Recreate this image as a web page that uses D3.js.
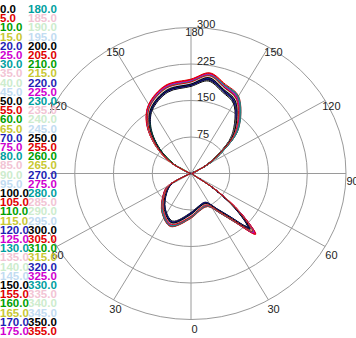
<!DOCTYPE html>
<html><head><meta charset="utf-8">
<script src="https://cdn.jsdelivr.net/npm/d3@7"></script>
<style>body{margin:0;background:#fff}svg{display:block}</style>
</head><body>
<script>
// ---- data ----
const angles = [0,12,25,35,40,45,50,55,62,90,115,120,127,135,150,160,170,180,195,210,220,230,240,248,270,292,300,310,325,340];
const seriesNames = ["0.0","5.0","10.0","15.0","20.0","25.0","30.0","35.0","40.0","45.0","50.0","55.0","60.0","65.0","70.0","75.0","80.0","85.0","90.0","95.0","100.0","105.0","110.0","115.0","120.0","125.0","130.0","135.0","140.0","145.0","150.0","155.0","160.0","165.0","170.0","175.0","180.0","185.0","190.0","195.0","200.0","205.0","210.0","215.0","220.0","225.0","230.0","235.0","240.0","245.0","250.0","255.0","260.0","265.0","270.0","275.0","280.0","285.0","290.0","295.0","300.0","305.0","310.0","315.0","320.0","325.0","330.0","335.0","340.0","345.0","350.0","355.0"];
const radii = [
[84,72,68,92,118,160,115,52,3,1,9,34,70,117,170,183,198,184,177,154,124,82,40,5,1,5,46,64,90,108],
[88,75,71,97,124,172,122,58,5,2,12,39,75,124,178,189,205,189,183,160,130,88,44,7,3,7,50,68,94,112],
[85,73,69,94,119,163,117,54,4,2,10,35,71,119,172,185,200,185,179,156,126,84,41,6,2,6,47,65,91,109],
[87,74,70,96,121,166,119,56,4,1,11,37,73,121,175,187,203,187,181,158,128,86,43,6,2,6,49,67,93,111],
[83,71,67,91,116,158,113,51,3,2,9,33,68,115,168,181,196,182,176,153,123,81,39,5,1,5,45,63,89,107],
[89,76,72,98,125,170,121,57,5,3,12,40,76,126,179,190,206,190,184,161,131,89,45,7,2,7,51,69,95,113],
[90,77,73,99,126,168,120,58,5,2,13,41,78,128,181,191,204,188,182,159,129,87,44,6,2,6,50,68,96,114],
[86,73,70,95,120,164,118,55,4,2,10,36,72,120,174,186,202,186,180,157,127,85,42,6,2,6,48,66,92,110],
[85,74,71,94,121,166,119,54,4,2,10,37,73,121,175,185,201,187,179,156,126,84,41,6,2,6,47,65,91,109],
[87,75,69,96,119,163,117,56,4,2,11,35,71,119,173,187,203,185,181,158,128,86,43,6,2,6,49,67,93,111],
[82,71,66,90,115,156,112,50,3,1,8,32,67,114,167,180,195,181,175,152,122,80,38,5,1,4,44,62,88,106],
[91,78,74,100,128,174,124,60,6,3,14,42,79,129,182,193,208,192,186,163,133,90,46,8,3,8,52,70,97,115],
[86,74,70,95,120,165,118,55,4,2,12,40,76,124,177,188,203,185,178,154,123,80,38,5,2,5,47,65,91,109],
[85,73,69,94,119,162,116,53,3,1,8,33,69,117,171,184,201,187,182,160,131,90,46,7,2,6,49,67,93,111],
[87,75,71,96,122,168,120,57,5,2,11,38,74,122,176,188,204,188,182,159,129,87,44,6,2,6,49,67,93,111],
[84,72,68,93,118,161,115,53,4,2,10,35,71,118,172,184,199,184,178,155,125,83,41,5,1,5,46,64,90,108],
[88,76,72,97,123,169,121,57,5,2,9,34,70,118,173,186,202,187,181,158,128,86,43,6,2,6,48,66,92,110],
[86,73,69,95,120,165,118,55,4,2,11,37,73,121,175,187,202,186,180,157,127,85,42,6,2,6,48,66,92,110],
[85,74,70,94,120,164,117,55,4,2,10,36,72,120,174,186,201,186,180,157,126,85,42,6,2,6,48,65,92,110],
[87,74,71,96,121,166,119,56,4,2,10,36,73,120,174,187,202,186,181,157,127,85,43,6,2,6,48,66,93,110],
[80,69,65,89,113,154,110,49,3,1,8,31,66,112,165,178,193,179,173,150,120,79,37,4,1,4,43,61,87,104],
[92,79,75,101,129,177,126,61,6,3,13,42,80,130,184,195,210,194,188,164,134,91,47,8,3,8,53,71,98,116],
[86,74,70,95,121,165,118,55,4,2,13,41,78,127,180,190,205,187,179,154,122,79,37,5,2,5,46,64,90,108],
[86,74,70,95,120,165,118,55,4,2,8,32,67,114,169,182,199,185,181,160,132,91,47,8,2,6,50,68,94,112],
[88,75,72,97,122,167,119,56,4,2,11,37,74,122,177,189,205,189,183,160,130,88,44,6,2,6,49,67,93,111],
[84,72,68,93,117,161,115,53,4,2,10,35,70,117,171,183,199,183,177,154,124,82,40,5,1,5,46,64,90,108],
[89,76,72,98,124,171,122,58,5,2,12,39,76,125,179,190,206,190,184,161,131,89,45,7,2,7,51,69,95,113],
[85,73,69,94,119,163,117,54,4,2,10,36,72,120,174,186,202,186,180,157,127,85,42,6,2,6,48,66,92,110],
[86,74,70,95,120,165,118,55,4,2,10,36,72,121,174,185,202,186,180,158,127,85,42,6,2,6,48,66,91,110],
[87,74,70,96,121,166,119,56,4,2,10,36,71,120,175,186,203,186,179,157,128,85,42,6,2,6,49,66,92,111],
[83,71,67,92,117,159,114,52,3,1,9,34,69,116,169,182,197,182,176,153,123,81,39,5,1,5,45,63,89,107],
[90,77,73,99,126,173,123,59,6,3,13,40,77,127,181,192,207,191,185,162,132,89,45,7,3,7,52,70,96,114],
[85,73,69,94,119,164,117,54,4,2,11,38,75,123,176,187,201,184,178,155,125,83,40,5,2,5,47,65,91,109],
[87,75,71,96,121,167,119,56,4,2,9,34,70,118,172,185,202,187,182,159,129,87,44,7,2,6,49,67,93,111],
[82,70,66,91,116,160,114,52,3,1,9,33,68,115,168,181,197,183,177,154,124,82,40,5,1,5,45,63,89,107],
[89,77,73,98,125,172,122,58,5,3,12,40,77,126,180,191,206,190,184,161,131,89,45,7,3,7,51,69,95,113],
[91,78,74,100,127,169,121,59,6,3,14,43,80,130,183,193,205,189,183,160,130,88,45,7,2,6,51,69,97,115],
[86,74,70,95,120,165,118,55,4,2,10,36,72,120,174,186,202,186,180,157,127,85,42,6,2,6,48,66,92,110],
[85,73,69,95,120,164,118,55,4,2,10,36,72,120,174,186,201,186,180,157,127,85,42,6,2,6,48,66,92,110],
[87,75,71,95,121,166,119,55,4,2,10,36,72,120,174,186,203,186,180,157,127,85,42,6,2,6,48,66,92,110],
[84,72,68,93,118,162,116,53,4,2,10,35,71,119,172,184,200,185,179,156,126,84,41,5,1,5,47,65,91,109],
[88,76,72,97,123,170,121,57,5,2,11,37,73,121,176,188,204,188,182,159,129,87,43,6,2,6,49,67,93,111],
[86,74,70,95,120,165,118,55,4,2,12,39,75,123,177,188,203,186,179,155,124,82,39,5,2,5,47,65,91,109],
[86,74,70,95,120,165,118,55,4,2,9,34,70,118,172,185,201,186,181,159,129,88,44,7,2,6,49,67,93,111],
[81,70,66,90,114,157,112,50,3,1,8,32,68,115,168,181,196,181,175,152,122,80,38,5,1,4,44,62,88,106],
[90,77,73,99,126,174,124,59,5,3,12,40,77,126,181,192,208,192,186,163,133,90,46,7,3,7,52,70,96,114],
[89,76,73,98,125,168,121,58,5,2,13,41,78,128,182,192,205,189,183,160,130,88,44,6,2,6,50,68,96,114],
[85,74,70,94,120,165,118,55,4,2,10,37,72,121,174,186,202,186,180,157,127,85,42,6,2,6,48,66,93,110],
[86,73,70,95,119,164,118,55,4,2,10,36,73,120,175,186,201,186,181,157,127,85,41,6,2,6,48,67,92,110],
[87,74,71,95,121,165,119,55,4,2,11,36,72,120,174,187,202,185,180,156,127,85,42,6,2,6,49,66,92,111],
[83,72,67,92,117,160,114,52,3,1,9,34,70,117,170,183,198,183,177,154,124,83,40,5,1,5,46,64,89,107],
[89,76,72,98,124,171,122,58,5,3,12,39,76,125,179,190,206,190,184,161,131,88,45,7,3,7,51,69,95,113],
[85,73,69,94,120,164,117,54,4,2,12,40,77,125,178,189,204,186,178,154,123,81,38,5,2,5,47,65,91,109],
[87,75,71,96,121,166,119,56,4,2,8,33,69,116,170,183,200,186,182,160,131,89,45,7,2,6,49,67,93,111],
[84,72,68,93,118,162,116,53,4,2,10,35,71,118,171,184,200,185,179,156,126,84,41,5,1,5,46,64,90,108],
[90,77,73,99,126,175,125,60,5,3,12,39,75,124,178,190,207,191,185,162,132,89,45,7,3,7,51,69,95,113],
[90,78,74,100,127,170,122,59,6,2,14,42,79,129,182,192,205,189,183,160,130,88,45,7,2,6,51,69,97,115],
[86,74,70,95,120,164,118,55,4,2,10,36,72,120,174,186,201,186,180,157,127,85,42,6,2,6,48,66,92,110],
[85,74,70,95,120,165,117,55,4,2,10,36,72,120,174,185,202,186,180,157,127,85,42,6,2,6,48,66,92,110],
[86,74,71,95,121,165,118,56,4,2,10,36,72,120,173,186,202,187,180,157,127,85,42,6,2,6,48,66,92,110],
[82,70,67,91,116,159,114,51,3,1,9,33,69,116,169,182,197,182,176,153,123,81,39,5,1,5,45,63,89,107],
[91,78,74,100,128,176,125,61,6,3,13,41,78,128,182,193,209,193,187,163,133,90,46,8,3,8,52,70,97,115],
[86,74,70,95,120,165,118,55,4,2,12,39,76,124,177,188,203,186,179,155,124,82,39,5,2,5,47,65,91,109],
[86,74,70,95,120,165,118,55,4,2,9,33,69,116,171,184,201,186,181,159,130,89,45,7,2,6,49,67,93,111],
[83,71,67,92,117,160,115,52,3,1,9,34,70,117,170,183,198,183,177,154,124,82,40,5,1,5,45,63,89,107],
[88,76,72,97,124,171,122,58,5,2,12,39,75,124,178,190,205,189,183,160,130,88,44,7,2,7,50,68,94,112],
[90,77,73,99,126,169,121,58,5,2,13,42,79,128,182,192,205,189,183,160,130,88,44,7,2,6,50,68,96,114],
[86,73,70,95,120,166,118,55,4,2,10,36,72,121,174,186,202,186,180,157,127,86,42,6,2,6,48,66,92,110],
[85,74,69,95,120,165,118,54,4,2,10,36,71,120,174,186,202,186,179,157,127,85,42,6,2,6,48,65,92,110],
[86,75,70,96,120,164,118,55,4,2,10,36,72,120,175,186,203,186,180,157,126,85,42,6,2,6,48,66,91,110],
[84,72,68,93,118,162,116,53,4,2,10,35,71,118,172,184,200,184,178,155,125,83,41,5,1,5,46,64,90,108],
[88,75,71,97,123,168,120,57,5,2,11,37,73,122,176,188,204,188,182,159,129,87,43,6,2,6,49,67,93,111]
];
const palette = ["#000000","#e00000","#00a000","#c8c832","#1e1eb4","#d000d0","#00a0a0","#f2c4d4","#cdeccd","#c2dcf2"];
const radialTicks = [75,150,225,300];
const spokeAngles = [0,30,60,90,120,150];
const angleTicks = [0,30,60,90,120,150,180,210,240,270,300,330];
const angleTickLabels = ["0","30","60","90","120","150","180","150","120","90","60","30"];

// ---- layout ----
const W = 356, H = 338;
const cx = 191, cy = 173.5, RX = 155, RY = 146;
const svg = d3.select("body").append("svg").attr("width", W).attr("height", H);
const r = d3.scaleLinear().domain([0, 300]).range([0, RX]);
const ang = d => (180 - d) * Math.PI / 180;   // 0 at bottom
const g = svg.append("g").attr("transform", `translate(${cx},${cy}) scale(1,${RY/RX})`);

const grid = g.append("g");
grid.selectAll("circle").data(radialTicks).join("circle")
  .attr("r", d => r(d)).attr("fill", "none").attr("stroke", "#9a9a9a")
  .attr("stroke-width", 1).attr("vector-effect", "non-scaling-stroke");
grid.selectAll("line").data(spokeAngles).join("line")
  .attr("x1", d => -r(300) * Math.sin(ang(d))).attr("y1", d => r(300) * Math.cos(ang(d)))
  .attr("x2", d => r(300) * Math.sin(ang(d))).attr("y2", d => -r(300) * Math.cos(ang(d)))
  .attr("stroke", "#9a9a9a").attr("stroke-width", 1).attr("vector-effect", "non-scaling-stroke");

const line = d3.lineRadial()
  .angle((d, i) => ang(angles[i]))
  .radius(d => r(d))
  .curve(d3.curveCatmullRomClosed.alpha(0.5));
g.append("g").selectAll("path").data(radii).join("path")
  .attr("d", d => line(d)).attr("fill", "none")
  .attr("stroke", (d, i) => palette[i % palette.length])
  .attr("stroke-width", 1).attr("vector-effect", "non-scaling-stroke");

// angle labels
svg.append("g").selectAll("text").data(angleTicks).join("text")
  .attr("x", d => cx + 1.02 * RX * Math.sin(ang(d)) + 3.5)
  .attr("y", d => cy - 1.02 * RY * Math.cos(ang(d)) + 7)
  .attr("text-anchor", "middle").attr("dominant-baseline", "central")
  .attr("font-family", "Liberation Sans, Arial, sans-serif").attr("font-size", 11).attr("fill", "#222")
  .text((d, i) => angleTickLabels[i]);

// radial labels
svg.append("g").selectAll("text").data(radialTicks).join("text")
  .attr("x", cx + 6).attr("y", d => cy - RY * d / 300 + 0.5)
  .attr("font-family", "Liberation Sans, Arial, sans-serif").attr("font-size", 11).attr("fill", "#222")
  .text(d => d);

// legend
const half = seriesNames.length / 2;
const leg = svg.append("g");
leg.append("rect").attr("x", 0).attr("y", 0).attr("width", 50).attr("height", H).attr("fill", "#fff");
leg.selectAll("text").data(seriesNames).join("text")
  .attr("x", (d, i) => i < half ? 0 : 28)
  .attr("y", (d, i) => 13 + (i % half) * 9.2)
  .attr("font-family", "Liberation Sans, Arial, sans-serif").attr("font-size", 11.5).attr("font-weight", "bold")
  .attr("fill", (d, i) => palette[i % palette.length])
  .text(d => d);
</script>
</body></html>
